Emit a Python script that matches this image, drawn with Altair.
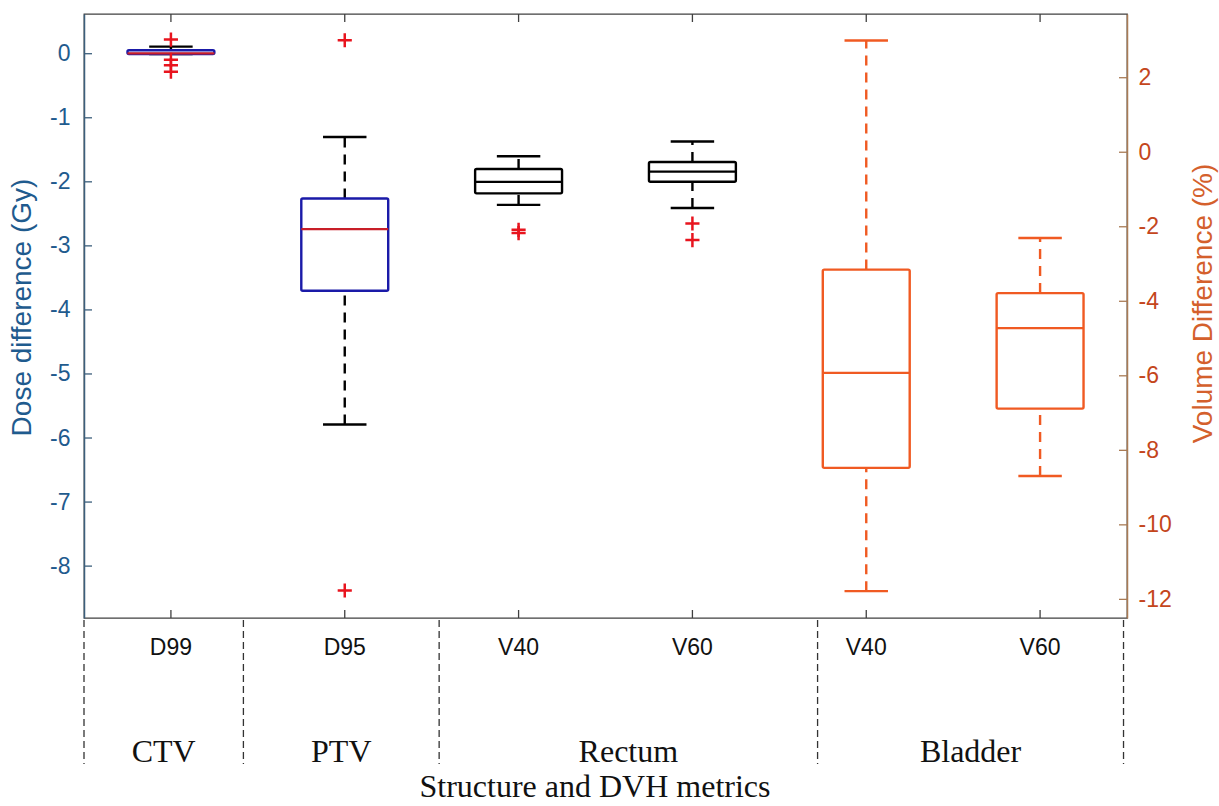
import altair as alt
import pandas as pd

# ---------------- data ----------------
positions = [1, 2, 3, 4, 5, 6]
metrics = ["D99", "D95", "V40", "V60", "V40", "V60"]
structures = ["CTV", "PTV", "Rectum", "Rectum", "Bladder", "Bladder"]
sides = ["left", "left", "left", "left", "right", "right"]

whisker_low = [-0.005, -5.79, -2.36, -2.41, -11.78, -8.69]
q1 = [-0.005, -3.70, -2.18, -2.00, -8.47, -6.88]
median = [0.005, -2.74, -2.00, -1.84, -5.92, -4.72]
q3 = [0.055, -2.26, -1.80, -1.69, -3.15, -3.78]
whisker_high = [0.11, -1.30, -1.60, -1.37, 3.00, -2.30]

outlier_pos = [1, 1, 1, 1, 2, 2, 3, 3, 4, 4]
outlier_val = [0.22, -0.095, -0.18, -0.28, 0.21, -8.38, -2.75, -2.80, -2.65, -2.91]

left_ticks = [0, -1, -2, -3, -4, -5, -6, -7, -8]
right_ticks = [2, 0, -2, -4, -6, -8, -10, -12]

group_names = ["CTV", "PTV", "Rectum", "Bladder"]
separators = [0.5, 1.417, 2.543, 4.72, 6.48]

x_title = "Structure and DVH metrics"
left_title = "Dose difference (Gy)"
right_title = "Volume Difference (%)"

# ---------------- layout / style ----------------
W, H = 1043, 604
SANS = "Liberation Sans"
SERIF = "Liberation Serif"
BLUE_TXT = "#1f5b8e"
BLUE_AX = "#3c5f7c"
ORANGE_TXT = "#c4461c"
ORANGE_TITLE = "#d4602c"
BROWN_AX = "#a97b55"
BOX_BLUE = "#1a1aa8"
MED_RED = "#c81e28"
OUT_RED = "#e8141e"
BLADDER = "#f05a22"

df = pd.DataFrame({
    "pos": positions, "metric": metrics, "structure": structures, "side": sides,
    "wl": whisker_low, "q1": q1, "med": median, "q3": q3, "wh": whisker_high,
})
out_df = pd.DataFrame({"pos": outlier_pos, "val": outlier_val})

xscale = alt.Scale(domain=[0.5, 6.5], nice=False, zero=False)
X = lambda f: alt.X(f, scale=xscale, axis=None)

left_scale = alt.Scale(domain=[-8.81, 0.62], nice=False, zero=False)
right_scale = alt.Scale(domain=[-12.5, 3.71], nice=False, zero=False)

left_axis = alt.Axis(
    title=left_title, orient="left", values=left_ticks, ticks=False, grid=False,
    domainColor=BLUE_AX, domainWidth=1.5, labelColor=BLUE_TXT, labelFont=SANS,
    labelFontSize=23, labelPadding=14, labelExpr="'' + datum.value",
    titleColor=BLUE_TXT, titleFont=SANS, titleFontSize=28, titleFontWeight="normal",
    titleAngle=270, titleX=-62, titleY=293, titleBaseline="middle", titleAlign="center",
)
right_axis = alt.Axis(
    title=right_title, orient="right", values=right_ticks, ticks=False, grid=False,
    domainColor=BROWN_AX, domainWidth=1.5, labelColor=ORANGE_TXT, labelFont=SANS,
    labelFontSize=23, labelPadding=11, labelExpr="'' + datum.value",
    titleColor=ORANGE_TITLE, titleFont=SANS, titleFontSize=28, titleFontWeight="normal",
    titleAngle=270, titleX=76, titleY=289, titleBaseline="middle", titleAlign="center",
)

struct_dom = ["CTV", "PTV", "Rectum", "Bladder"]
box_col = alt.Scale(domain=struct_dom, range=[BOX_BLUE, BOX_BLUE, "#000000", BLADDER])
med_col = alt.Scale(domain=struct_dom, range=[MED_RED, MED_RED, "#000000", BLADDER])
wh_col = alt.Scale(domain=struct_dom, range=["#000000", "#000000", "#000000", BLADDER])


def box_layers(data, yscale, yaxis):
    Y = lambda f: alt.Y(f, scale=yscale, axis=yaxis)
    base = alt.Chart(data).transform_calculate(
        x0="datum.pos - 0.25", x1="datum.pos + 0.25",
        c0="datum.pos - 0.125", c1="datum.pos + 0.125",
    )
    wcol = alt.Stroke("structure:N", scale=wh_col, legend=None)
    whisk_hi = base.mark_rule(strokeDash=[10, 7], strokeWidth=2.4).encode(
        x=X("pos:Q"), y=Y("q3:Q"), y2="wh:Q", stroke=wcol)
    whisk_lo = base.mark_rule(strokeDash=[10, 7], strokeWidth=2.4).encode(
        x=X("pos:Q"), y=Y("wl:Q"), y2="q1:Q", stroke=wcol)
    cap_hi = base.mark_rule(strokeWidth=2.4).encode(
        x=X("c0:Q"), x2="c1:Q", y=Y("wh:Q"), stroke=wcol)
    cap_lo = base.mark_rule(strokeWidth=2.4).encode(
        x=X("c0:Q"), x2="c1:Q", y=Y("wl:Q"), stroke=wcol)
    box = base.mark_rect(fill="white", strokeWidth=2.4, cornerRadius=1.5).encode(
        x=X("x0:Q"), x2="x1:Q", y=Y("q1:Q"), y2="q3:Q",
        stroke=alt.Stroke("structure:N", scale=box_col, legend=None))
    med = base.mark_rule(strokeWidth=2.2).encode(
        x=X("x0:Q"), x2="x1:Q", y=Y("med:Q"),
        stroke=alt.Stroke("structure:N", scale=med_col, legend=None))
    whiskers = alt.layer(whisk_hi, whisk_lo, cap_hi, cap_lo)
    boxes = alt.layer(box)
    medians = alt.layer(med)
    return alt.layer(whiskers, boxes, medians).resolve_scale(stroke="independent")


left_df = df[df["side"] == "left"]
right_df = df[df["side"] == "right"]

# inner ticks
lt_df = pd.DataFrame({"v": left_ticks})
rt_df = pd.DataFrame({"v": right_ticks})
left_tick_marks = alt.Chart(lt_df).mark_rule(color=BLUE_AX, strokeWidth=1.3).encode(
    y=alt.Y("v:Q", scale=left_scale, axis=left_axis), x=alt.value(0), x2=alt.value(8))
right_tick_marks = alt.Chart(rt_df).mark_rule(color=BROWN_AX, strokeWidth=1.3).encode(
    y=alt.Y("v:Q", scale=right_scale, axis=right_axis), x=alt.value(W - 8), x2=alt.value(W))

pos_df = pd.DataFrame({"pos": positions, "metric": metrics})
xt_bot = alt.Chart(pos_df).mark_rule(color="#404040", strokeWidth=1.3).encode(
    x=X("pos:Q"), y=alt.value(H - 8), y2=alt.value(H))
xt_top = alt.Chart(pos_df).mark_rule(color="#404040", strokeWidth=1.3).encode(
    x=X("pos:Q"), y=alt.value(0), y2=alt.value(8))

outliers = alt.Chart(out_df).mark_point(
    shape="M-1,0L1,0M0,-1L0,1", filled=False, color=OUT_RED, strokeWidth=2.5, size=200, opacity=1
).encode(x=X("pos:Q"), y=alt.Y("val:Q", scale=left_scale, axis=left_axis))

# labels below the axis
metric_labels = alt.Chart(pos_df).mark_text(
    font=SANS, fontSize=23, color="#111111", baseline="alphabetic", align="center"
).encode(x=X("pos:Q"), y=alt.value(641), text="metric:N")

sep_df = pd.DataFrame({"s": separators})
sep_rules = alt.Chart(sep_df).mark_rule(color="#333333", strokeWidth=1.3, strokeDash=[7, 4]).encode(
    x=X("s:Q"), y=alt.value(606), y2=alt.value(750))

grp_df = pd.DataFrame({"name": group_names, "a": separators[:-1], "b": separators[1:]})
grp_labels = alt.Chart(grp_df).transform_calculate(c="(datum.a + datum.b) / 2").mark_text(
    font=SERIF, fontSize=32, color="#111111", baseline="alphabetic", align="center"
).encode(x=X("c:Q"), y=alt.value(748), text="name:N")

title_df = pd.DataFrame({"t": [x_title]})
title_mark = alt.Chart(title_df).mark_text(
    font=SERIF, fontSize=32, color="#111111", baseline="alphabetic", align="center"
).encode(x=alt.value(511), y=alt.value(783), text="t:N")

left_group = alt.layer(
    left_tick_marks, xt_bot, xt_top,
    box_layers(left_df, left_scale, left_axis),
    outliers, metric_labels, sep_rules, grp_labels, title_mark,
)
right_group = alt.layer(
    right_tick_marks,
    box_layers(right_df, right_scale, right_axis),
)

chart = alt.layer(left_group, right_group).resolve_scale(
    y="independent", stroke="independent"
).properties(
    width=W, height=H,
    autosize=alt.AutoSizeParams(type="none"),
    padding={"left": 84, "top": 14, "right": 92, "bottom": 188},
    background="white",
).configure_view(stroke="#404040", strokeWidth=1.3)

chart.save("out.html", embed_options={"renderer": "svg", "actions": False})
